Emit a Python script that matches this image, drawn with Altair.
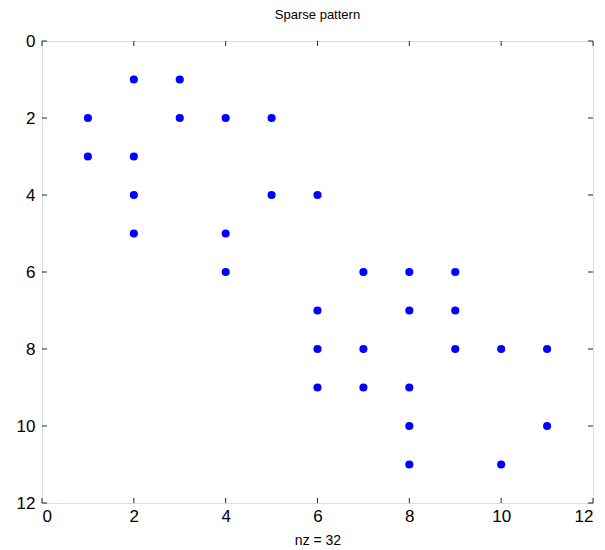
import altair as alt
import pandas as pd

# Non-zero entries (column, row) of the sparse matrix
cols = [2, 3, 1, 3, 4, 5, 1, 2, 2, 5, 6, 2, 4, 4, 7, 8, 9, 6, 8, 9, 6, 7, 9, 10, 11, 6, 7, 8, 8, 11, 8, 10]
rows = [1, 1, 2, 2, 2, 2, 3, 3, 4, 4, 4, 5, 5, 6, 6, 6, 6, 7, 7, 7, 8, 8, 8, 8, 8, 9, 9, 9, 10, 10, 11, 11]
tick_values = [0, 2, 4, 6, 8, 10, 12]
title_text = "Sparse pattern"
xlabel_text = "nz = %d" % len(cols)

W, H = 551, 462
TICK = 5
FRAME = "#262626"
FONT = "Liberation Sans"

pts = pd.DataFrame({"col": cols, "row": rows})
ticks = pd.DataFrame({"v": tick_values})

xscale = alt.Scale(domain=[0, 12], nice=False, zero=False)
yscale = alt.Scale(domain=[0, 12], nice=False, zero=False, reverse=True)

xaxis = alt.Axis(values=tick_values, ticks=False, domain=False, grid=False,
                 labelFont=FONT, labelFontSize=17, labelColor="#000000",
                 labelPadding=5, title=xlabel_text, titleFont=FONT,
                 titleFontSize=14, titleFontWeight="normal", titleColor="#000000",
                 titlePadding=9)
yaxis = alt.Axis(values=tick_values, ticks=False, domain=False, grid=False,
                 labelFont=FONT, labelFontSize=17, labelColor="#000000",
                 labelPadding=7, title=None)

points = alt.Chart(pts).mark_circle(size=66, opacity=1, color="#0000ff").encode(
    x=alt.X("col:Q", scale=xscale, axis=xaxis),
    y=alt.Y("row:Q", scale=yscale, axis=yaxis),
)

top_ticks = alt.Chart(ticks).mark_rule(color=FRAME, strokeWidth=1).encode(
    x=alt.X("v:Q", scale=xscale), y=alt.value(0), y2=alt.value(TICK))
bottom_ticks = alt.Chart(ticks).mark_rule(color=FRAME, strokeWidth=1).encode(
    x=alt.X("v:Q", scale=xscale), y=alt.value(H), y2=alt.value(H - TICK))
left_ticks = alt.Chart(ticks).mark_rule(color=FRAME, strokeWidth=1).encode(
    y=alt.Y("v:Q", scale=yscale), x=alt.value(0), x2=alt.value(TICK))
right_ticks = alt.Chart(ticks).mark_rule(color=FRAME, strokeWidth=1).encode(
    y=alt.Y("v:Q", scale=yscale), x=alt.value(W), x2=alt.value(W - TICK))

chart = alt.layer(points, top_ticks, bottom_ticks, left_ticks, right_ticks).properties(
    width=W, height=H,
    title=alt.TitleParams(title_text, font=FONT, fontSize=13, fontWeight="normal",
                          color="#000000", offset=10),
    autosize=alt.AutoSizeParams(type="none"),
    padding={"left": 34, "top": 33, "right": 4, "bottom": 45},
).configure_view(stroke=FRAME, strokeWidth=1.5).configure(background="white")

chart.save("out.html", embed_options={"renderer": "svg", "actions": False})
